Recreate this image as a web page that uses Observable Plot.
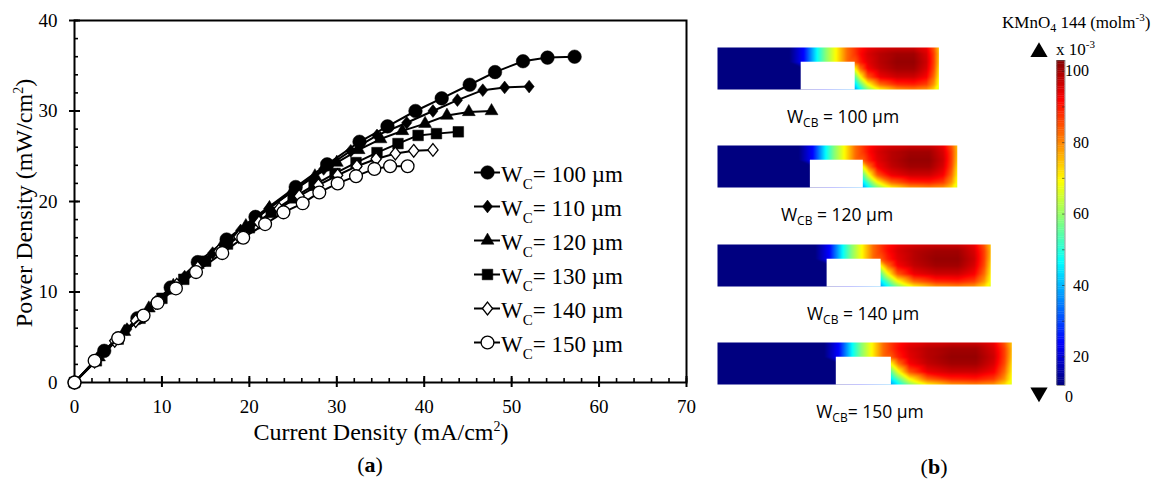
<!DOCTYPE html>
<html>
<head>
<meta charset="utf-8">
<script src="https://cdn.jsdelivr.net/npm/d3@7"></script>
<script src="https://cdn.jsdelivr.net/npm/@observablehq/plot@0.6"></script>
<style>
  body { margin: 0; background: #fff; }
  #root { position: relative; width: 1156px; height: 482px; overflow: hidden; font-family: "Liberation Serif", serif; color: #000; }
  .abs { position: absolute; white-space: nowrap; line-height: 1; }
  .serif { font-family: "Liberation Serif", serif; }
  .sans { font-family: "Open Sans", sans-serif; }
</style>
</head>
<body>
<div id="root"></div>
<script>
// ---------------- DATA (panel a) ----------------
const channelWidths = [100, 110, 120, 130, 140, 150];

const current100 = [0, 3.4, 7.2, 11.0, 14.1, 17.4, 20.7, 25.3, 28.9, 32.6, 35.8, 39.0, 42.0, 45.2, 48.1, 51.3, 54.1, 57.2];
const power100   = [0, 3.5, 7.1, 10.5, 13.3, 15.8, 18.3, 21.6, 24.1, 26.6, 28.3, 30.0, 31.4, 32.9, 34.3, 35.5, 35.9, 36.0];

const current110 = [0, 2.6, 6.0, 9.3, 12.6, 15.8, 19.0, 22.2, 25.3, 28.5, 31.6, 34.6, 38.0, 41.0, 43.8, 46.7, 49.2, 52.0];
const power110   = [0, 2.7, 5.9, 8.9, 11.7, 14.3, 16.8, 19.2, 21.4, 23.6, 25.6, 27.3, 28.7, 30.0, 31.2, 32.3, 32.6, 32.7];

const current120 = [0, 2.8, 5.7, 8.5, 11.3, 14.1, 16.9, 19.6, 22.3, 24.9, 27.5, 30.0, 32.5, 35.0, 37.5, 40.1, 42.6, 45.1, 47.7];
const power120   = [0, 2.8, 5.6, 8.2, 10.7, 13.0, 15.2, 17.3, 19.3, 21.1, 22.8, 24.3, 25.7, 26.9, 27.8, 28.6, 29.5, 29.9, 30.0];

const current130 = [0, 2.5, 5.0, 7.5, 10.0, 12.5, 15.0, 17.5, 20.0, 22.5, 25.0, 27.4, 29.8, 32.2, 34.6, 37.0, 39.3, 41.4, 43.9];
const power130   = [0, 2.4, 4.8, 7.1, 9.3, 11.4, 13.4, 15.3, 17.1, 18.8, 20.4, 21.8, 23.1, 24.3, 25.4, 26.4, 27.3, 27.5, 27.7];

const current140 = [0, 2.3, 4.6, 7.0, 9.3, 11.7, 14.1, 16.5, 18.8, 21.1, 23.4, 25.7, 27.9, 30.1, 32.3, 34.5, 36.7, 38.8, 41.0];
const power140   = [0, 2.3, 4.6, 6.8, 8.8, 10.8, 12.7, 14.5, 16.1, 17.7, 19.2, 20.6, 21.8, 22.9, 23.9, 24.7, 25.3, 25.6, 25.7];

const current150 = [0, 2.3, 5.0, 7.9, 9.5, 11.6, 13.9, 16.9, 19.3, 21.8, 23.9, 26.1, 28.0, 30.1, 32.2, 34.3, 36.1, 38.1];
const power150   = [0, 2.4, 4.9, 7.4, 8.8, 10.4, 12.2, 14.3, 16.0, 17.5, 18.8, 19.8, 21.0, 22.0, 22.8, 23.6, 23.9, 23.9];

const xTicks = [0, 10, 20, 30, 40, 50, 60, 70];
const yTicks = [0, 10, 20, 30, 40];

// ---------------- DATA (panel b) ----------------
const cbWidths      = [100, 120, 140, 150];       // W_CB (µm)
const notchStart    = [155, 172, 203, 220];       // geometry units
const notchEnd      = [255, 270, 303, 322];
const channelEnd    = [410, 444, 506, 545];
const channelHeight = 77;
const notchDepth    = 50;

// concentration along the upper strip, offsets from notch start (per 100 units of notch width)
const stripOffsets = [-22, 5, 30, 45, 66, 85];
const stripValues  = [12, 24, 47, 58, 70, 82];
// concentration in the right chamber (fractional grid, rows bottom -> top)
const blockFx = [0, 0.06, 0.15, 0.3, 0.5, 0.7, 0.85, 0.94, 1];
const blockFy = [0, 0.12, 0.3, 0.5, 0.65, 0.85, 1];
const blockValues = [
  [38, 46, 58, 70, 78, 80, 78, 72, 66],
  [44, 54, 68, 82, 88, 89, 86, 78, 68],
  [55, 68, 84, 93, 96, 96, 92, 82, 70],
  [70, 82, 92, 97, 100, 100, 95, 85, 72],
  [84, 89, 94, 98, 101, 101, 96, 86, 74],
  [87, 91, 95, 98, 100, 100, 95, 86, 75],
  [87, 90, 93, 95, 96, 96, 93, 84, 74]
];
const leftValue = 12;
const colorTicks = [20, 40, 60, 80, 100];
const colorMin = 12, colorMax = 103;

// ---------------- STYLES ----------------
const diamondSym = {
  draw(ctx, size) {
    const h = Math.sqrt(size) * 0.9, w = h * 0.8;
    ctx.moveTo(0, -h); ctx.lineTo(w, 0); ctx.lineTo(0, h); ctx.lineTo(-w, 0); ctx.closePath();
  }
};
const seriesStyle = {
  100: {symbol: "circle", fill: "black", r: 6.8},
  110: {symbol: diamondSym, fill: "black", r: 4},
  120: {symbol: "triangle", fill: "black", r: 4.8},
  130: {symbol: "square", fill: "black", r: 6.0},
  140: {symbol: diamondSym, fill: "white", r: 4},
  150: {symbol: "circle", fill: "white", r: 6.4}
};
const seriesData = {
  100: [current100, power100], 110: [current110, power110], 120: [current120, power120],
  130: [current130, power130], 140: [current140, power140], 150: [current150, power150]
};
const jetColors = ["#000080", "#0000ff", "#00ffff", "#ffff00", "#ff0000", "#800000"];
const jetStops = [0, 0.125, 0.375, 0.625, 0.875, 1];
const colorScale = {
  type: "linear",
  domain: jetStops.map(t => colorMin + t * (colorMax - colorMin)),
  range: jetColors, interpolate: "rgb", clamp: true
};

const root = document.getElementById("root");
function place(node, left, top) {
  const d = document.createElement("div");
  d.className = "abs"; d.style.left = left + "px"; d.style.top = top + "px";
  d.appendChild(node); root.appendChild(d); return d;
}
function html(str, left, top, cls, extra) {
  const d = document.createElement("div");
  d.className = "abs " + (cls || ""); d.innerHTML = str;
  d.style.left = left + "px"; d.style.top = top + "px";
  if (extra) Object.assign(d.style, extra);
  root.appendChild(d); return d;
}

// ---------------- PANEL A ----------------
const serifFont = "Liberation Serif, serif";
const marksA = [
  Plot.axisX({ticks: d3.range(0, 71, 2), tickSize: -4, tickFormat: () => "", strokeWidth: 1.6, label: null}),
  Plot.axisX({ticks: xTicks, tickSize: -6, tickFormat: () => "", strokeWidth: 2, label: null}),
  Plot.axisX({ticks: xTicks, tickSize: 5, tickPadding: 12, strokeWidth: 2, fontSize: 19, label: null, tickFormat: d => String(d)}),
  Plot.axisY({ticks: d3.range(0, 41, 2), tickSize: -4, tickFormat: () => "", strokeWidth: 1.6, label: null}),
  Plot.axisY({ticks: yTicks, tickSize: -6, tickFormat: () => "", strokeWidth: 2, label: null}),
  Plot.axisY({ticks: yTicks, tickSize: 5, tickPadding: 12, strokeWidth: 2, fontSize: 19, label: null, tickFormat: d => String(d)}),
  Plot.frame({stroke: "black", strokeWidth: 2})
];
for (const w of channelWidths) {
  const [xs, ys] = seriesData[w];
  const rows = xs.map((x, i) => ({x, y: ys[i]}));
  const st = seriesStyle[w];
  marksA.push(Plot.line(rows, {x: "x", y: "y", stroke: "black", strokeWidth: 2}));
  marksA.push(Plot.dot(rows, {x: "x", y: "y", symbol: () => st.symbol, r: st.r, fill: st.fill,
    stroke: "black", strokeWidth: st.fill === "white" ? 1.3 : 0.5}));
}
const plotA = Plot.plot({
  width: 700, height: 482,
  marginLeft: 74, marginRight: 14, marginTop: 20, marginBottom: 100,
  x: {domain: [0, 70], label: null},
  y: {domain: [0, 40], label: null},
  symbol: {type: "identity"},
  style: {fontFamily: serifFont, fontSize: "19px", color: "black", background: "transparent", overflow: "visible"},
  marks: marksA
});
place(plotA, 0, 0);

// legend (markers through Plot, text as HTML)
const legendPlot = Plot.plot({
  width: 46, height: 205, margin: 0,
  x: {domain: [0, 1], range: [10, 36], axis: null},
  y: {type: "point", domain: channelWidths, range: [17, 187], padding: 0, axis: null},
  symbol: {type: "identity"},
  style: {background: "transparent", overflow: "visible"},
  marks: [
    Plot.ruleY(channelWidths, {y: d => d, x1: 0, x2: 1, stroke: "black", strokeWidth: 2}),
    ...channelWidths.map(w => Plot.dot([w], {x: 0.5, y: d => d, symbol: () => seriesStyle[w].symbol,
      r: seriesStyle[w].r, fill: seriesStyle[w].fill, stroke: "black",
      strokeWidth: seriesStyle[w].fill === "white" ? 1.3 : 0.5}))
  ]
});
place(legendPlot, 464, 155);
channelWidths.forEach((w, i) => {
  html(`W<span style="font-size:15px;position:relative;top:7px">C</span>= ${w} µm`, 501, 175 + 34 * i - 12, "serif",
    {fontSize: "23px"});
});

// axis titles
html(`Power Density (mW/cm<sup style="font-size:14px">2</sup>)`, 24, 203, "serif",
  {fontSize: "24px", transform: "translate(-50%,-50%) rotate(-90deg)"});
html(`Current Density (mA/cm<sup style="font-size:14px">2</sup>)`, 381, 432, "serif",
  {fontSize: "24px", transform: "translate(-50%,-50%)"});
html(`(<b>a</b>)`, 370, 465, "serif", {fontSize: "22px", transform: "translate(-50%,-50%)"});
html(`(<b>b</b>)`, 934, 467, "serif", {fontSize: "22px", transform: "translate(-50%,-50%)"});

// ---------------- PANEL B ----------------
const unitPx = 0.54;
const shapeLeft = 716.5, shapeTop0 = 46.7, shapeStep = 98.5;
const labelCenterX = [843, 837, 863, 870];
const labelText = ["W<sub>CB</sub> = 100 µm", "W<sub>CB</sub> = 120 µm", "W<sub>CB</sub> = 140 µm", "W<sub>CB</sub>= 150 µm"];
const xMax = 545;

cbWidths.forEach((wcb, i) => {
  const a = notchStart[i], b = notchEnd[i], L = channelEnd[i];
  const k = (b - a) / 100;
  const pts = [];
  for (const y of [0, 40, channelHeight]) pts.push({x: 0, y, v: leftValue});
  for (const y of [0, 40, notchDepth]) pts.push({x: a + stripOffsets[0] * k, y, v: leftValue});
  pts.push({x: a, y: 0, v: leftValue}, {x: a, y: 40, v: leftValue});
  stripOffsets.forEach((o, j) => {
    pts.push({x: a + o * k, y: notchDepth, v: stripValues[j]});
    pts.push({x: a + o * k, y: channelHeight, v: stripValues[j]});
  });
  blockFy.forEach((fy, r) => blockFx.forEach((fx, c) => {
    pts.push({x: b + fx * (L - b), y: fy * channelHeight, v: blockValues[r][c]});
  }));
  const p = Plot.plot({
    width: Math.round(xMax * unitPx) + 20, height: Math.round(channelHeight * unitPx) + 8,
    marginLeft: 10, marginRight: Math.round(xMax * unitPx) + 20 - 10 - xMax * unitPx, marginTop: 4, marginBottom: 4,
    x: {domain: [0, xMax], axis: null},
    y: {domain: [0, channelHeight], axis: null},
    color: colorScale,
    style: {background: "transparent", overflow: "visible"},
    marks: [
      Plot.raster(pts, {x: "x", y: "y", fill: "v", x1: 0, x2: L, y1: 0, y2: channelHeight, interpolate: "barycentric"}),
      Plot.rect([{x1: a, x2: b, y1: -1, y2: notchDepth}], {x1: "x1", x2: "x2", y1: "y1", y2: "y2", fill: "white"})
    ]
  });
  const top = shapeTop0 + i * shapeStep;
  place(p, shapeLeft - 10, top - 4);
  html(labelText[i], labelCenterX[i], top + 71, "sans",
    {fontSize: "17.5px", transform: "translate(-50%,-50%)"});
});
document.querySelectorAll("sub").forEach(s => { if (s.textContent === "CB") { s.style.fontSize = "12px"; s.style.verticalAlign = "-4px"; } });

// colorbar
const cbar = Plot.plot({
  width: 156, height: 482,
  marginLeft: 56.5, marginRight: 91.5, marginTop: 60, marginBottom: 97,
  x: {domain: [0, 1], axis: null},
  y: {domain: [colorMin, colorMax], axis: null},
  color: colorScale,
  style: {background: "transparent", overflow: "visible", fontFamily: serifFont},
  marks: [
    Plot.rect(d3.range(colorMin, colorMax, 0.5), {x1: 0, x2: 1, y1: d => d, y2: d => Math.min(d + 0.6, colorMax), fill: d => d}),
    Plot.ruleY(d3.range(20, 101, 10), {x1: 0.7, x2: 1, stroke: "#222", strokeWidth: 0.6}),
    Plot.frame({stroke: "#555", strokeWidth: 0.6}),
    Plot.text(colorTicks, {x: 1, y: d => d, dx: 24, textAnchor: "end", fontSize: 16, text: d => String(d)}),
    Plot.dot([0], {frameAnchor: "top-left", dx: -18, dy: -8.4, symbol: "triangle", r: 6.4, fill: "black"}),
    Plot.dot([0], {frameAnchor: "bottom-left", dx: -18, dy: 6.9, symbol: "triangle", r: 6.4, fill: "black", rotate: 180}),
    Plot.text(["0"], {frameAnchor: "bottom-left", dx: 8, dy: 16, fontSize: 16, text: d => d})
  ]
});
place(cbar, 1000, 0);
html(`KMnO<sub style="font-size:12px">4</sub> 144 (molm<sup style="font-size:11px">-3</sup>)`, 1002, 12, "serif", {fontSize: "17px"});
html(`x 10<sup style="font-size:11px">-3</sup>`, 1056, 39, "serif", {fontSize: "17px"});
</script>
</body>
</html>
